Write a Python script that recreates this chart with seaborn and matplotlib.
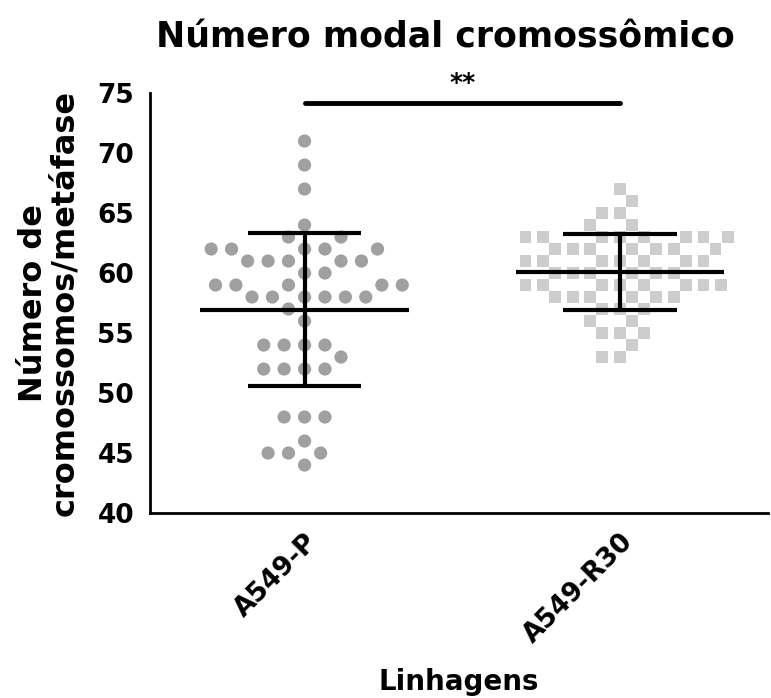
import pandas as pd
import numpy as np
import matplotlib
matplotlib.use("Agg")
import matplotlib.pyplot as plt
import seaborn as sns

# chromosome counts per metaphase
groups = ["A549-P", "A549-R30"]
parental = [71, 69, 67, 64, 63, 63,
            62, 62, 62, 62, 62, 61, 61, 61, 61, 61,
            60, 60, 59, 59, 59, 59, 59, 58, 58, 58, 58, 58, 58,
            57, 56, 54, 54, 54, 54, 53, 52, 52, 52, 52,
            48, 48, 48, 46, 45, 45, 45, 44]
resistant = [67, 66, 65, 65, 64, 64,
             63, 63, 63, 63, 63, 63, 63, 63,
             62, 62, 62, 62, 62, 62, 62,
             61, 61, 61, 61, 61, 61, 61,
             60, 60, 60, 60, 60, 60,
             59, 59, 59, 59, 59, 59, 59, 59,
             58, 58, 58, 58, 58, 58,
             57, 57, 57, 56, 56, 55, 55, 55, 54, 53, 53]
yticks = [40, 45, 50, 55, 60, 65, 70, 75]

df_p = pd.DataFrame({"linhagem": groups[0], "n": parental})
df_r = pd.DataFrame({"linhagem": groups[1], "n": resistant})

sns.set_style("white")
plt.rcParams["font.family"] = ["DejaVu Sans"]
plt.rcParams["font.weight"] = "bold"
plt.rcParams["text.color"] = "black"
plt.rcParams["axes.labelcolor"] = "black"
plt.rcParams["xtick.color"] = "black"
plt.rcParams["ytick.color"] = "black"

fig = plt.figure(figsize=(7.71, 6.98), dpi=100)
ax = fig.add_axes([0.1946, 0.265, 0.8016, 0.6017])

# transparent thick edge only widens the swarm spacing
sns.swarmplot(data=df_p, x="linhagem", y="n", order=groups, ax=ax,
              color="#a0a0a0", marker="o", size=9.5, linewidth=4.5, edgecolor="none")
sns.swarmplot(data=df_r, x="linhagem", y="n", order=groups, ax=ax,
              color="#cdcdcd", marker="s", size=8.5, linewidth=3.5, edgecolor="none")

# mean and SD bars
for i, vals in enumerate([parental, resistant]):
    m = np.mean(vals)
    sd = np.std(vals, ddof=1)
    ax.hlines(m, i - 0.33, i + 0.33, color="black", lw=3, zorder=5)
    ax.hlines([m - sd, m + sd], i - 0.18, i + 0.18, color="black", lw=3, zorder=5)
    ax.vlines(i, m - sd, m + sd, color="black", lw=3, zorder=5)

# significance bar
ax.plot([0, 1], [74.2, 74.2], color="black", lw=3.5, clip_on=False, zorder=6)
ax.text(0.5, 75.8, "**", ha="center", va="center", fontsize=18, fontweight="bold", clip_on=False)

ax.set_xlim(-0.49, 1.47)
ax.set_ylim(40, 75)
ax.set_yticks(yticks)
ax.tick_params(axis="both", direction="out", length=8, width=2, color="black")
ax.tick_params(axis="y", labelsize=19)
ax.tick_params(axis="x", labelsize=19)
for lab in ax.get_xticklabels():
    lab.set_rotation(45)
    lab.set_ha("right")
    lab.set_rotation_mode("anchor")
    lab.set_fontweight("bold")
for lab in ax.get_yticklabels():
    lab.set_fontweight("bold")

for s in ["top", "right"]:
    ax.spines[s].set_visible(False)
for s in ["left", "bottom"]:
    ax.spines[s].set_linewidth(2)
    ax.spines[s].set_color("black")

ax.set_ylabel("Número de\ncromossomos/metáfase", fontsize=23, fontweight="bold", linespacing=1.0)
ax.yaxis.set_label_coords(-0.113, 0.5)
ax.set_xlabel("Linhagens", fontsize=20, fontweight="bold")
ax.xaxis.set_label_coords(0.5, -0.37)

fig.text(445 / 771, 1 - 38 / 698, "Número modal cromossômico", ha="center", va="center",
         fontsize=25, fontweight="bold")

plt.savefig("out.png", dpi=100)
